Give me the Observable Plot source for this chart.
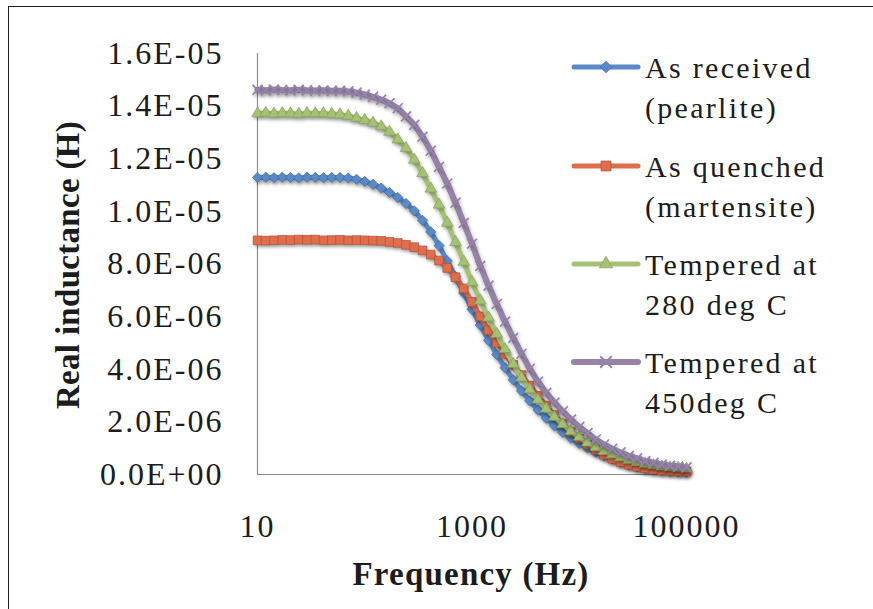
<!DOCTYPE html>
<html><head><meta charset="utf-8">
<script src="https://cdn.jsdelivr.net/npm/d3@7"></script>
<script src="https://cdn.jsdelivr.net/npm/@observablehq/plot@0.6"></script>
<style>
body{margin:0;background:#fff;}
#wrap{position:relative;width:873px;height:609px;overflow:hidden;background:#fff;font-family:"Liberation Serif",Tinos,"Times New Roman",Times,"Noto Serif","DejaVu Serif",serif;color:#1c1c1c;}
#frame{position:absolute;left:8px;top:6px;width:1000px;height:1000px;border-top:1.6px solid #222;border-left:1.6px solid #222;}
#chart{position:absolute;left:0;top:0;}
#chart g[aria-label="line"] path{filter:drop-shadow(1px 3px 2px rgba(0,0,0,0.3));}
#chart g[aria-label="dot"]{filter:drop-shadow(1px 2px 1.5px rgba(0,0,0,0.22));}
.title{position:absolute;font-weight:bold;font-size:33px;white-space:nowrap;transform:translate(-50%,-50%);}
#ytitle{left:68px;top:265px;transform:translate(-50%,-50%) rotate(-90deg);letter-spacing:0.3px;}
#xtitle{left:471px;top:574px;letter-spacing:1.2px;}
.leg{position:absolute;left:645px;font-size:30px;line-height:40px;letter-spacing:2.3px;white-space:nowrap;}
.sw{position:absolute;left:572px;width:68px;height:20px;overflow:visible;}
</style></head>
<body>
<div id="wrap">
  <div id="frame"></div>
  <div id="chart"></div>
  <div class="title" id="ytitle">Real inductance (H)</div>
  <div class="title" id="xtitle">Frequency (Hz)</div>
  <div id="legend"></div>
</div>
<script>
// Frequencies (Hz)
const freq = [10, 11.94, 14.25, 17.01, 20.31, 24.24, 28.94, 34.55, 41.25, 49.24, 58.78, 70.17, 83.77,
  100, 119.4, 142.5, 170.1, 203.1, 242.4, 289.4, 345.5, 412.5, 492.4, 587.8, 701.7, 837.7,
  1000, 1194, 1425, 1701, 2031, 2424, 2894, 3455, 4125, 4924, 5878, 7017, 8377,
  10000, 11938, 14251, 17013, 20309, 24245, 28943, 34551, 41246, 49239, 58780, 70171, 83768, 100000];

// Real inductance, in microhenries (x 1E-06 H)
const asReceived = [11.29, 11.30, 11.28, 11.30, 11.29, 11.27, 11.30, 11.29, 11.28, 11.29,
  11.29, 11.27, 11.22, 11.14, 11.03, 10.89, 10.72, 10.53, 10.30, 10.02,
  9.66, 9.22, 8.70, 8.12, 7.52, 6.90, 6.28, 5.68, 5.10, 4.56,
  4.06, 3.60, 3.18, 2.80, 2.45, 2.14, 1.85, 1.60, 1.38, 1.18,
  1.01, 0.85, 0.72, 0.59, 0.47, 0.37, 0.29, 0.23, 0.18, 0.15,
  0.12, 0.10, 0.09];
const asQuenched = [8.90, 8.89, 8.90, 8.92, 8.91, 8.93, 8.92, 8.93, 8.90, 8.91,
  8.92, 8.90, 8.91, 8.90, 8.89, 8.88, 8.84, 8.80, 8.73, 8.64,
  8.52, 8.36, 8.13, 7.85, 7.50, 7.07, 6.56, 6.01, 5.49, 5.01,
  4.58, 4.17, 3.78, 3.38, 2.99, 2.62, 2.26, 1.93, 1.62, 1.37,
  1.14, 0.94, 0.75, 0.60, 0.48, 0.38, 0.30, 0.24, 0.19, 0.16,
  0.14, 0.12, 0.11];
const tempered280 = [13.72, 13.74, 13.71, 13.73, 13.72, 13.70, 13.73, 13.72, 13.72, 13.70,
  13.68, 13.63, 13.55, 13.47, 13.37, 13.23, 13.02, 12.73, 12.40, 11.96,
  11.45, 10.86, 10.25, 9.56, 8.83, 8.08, 7.31, 6.61, 5.96, 5.34,
  4.76, 4.20, 3.68, 3.23, 2.84, 2.50, 2.19, 1.91, 1.65, 1.43,
  1.21, 1.04, 0.89, 0.76, 0.65, 0.55, 0.47, 0.40, 0.35, 0.30,
  0.27, 0.25, 0.22];
const tempered450 = [14.62, 14.60, 14.63, 14.61, 14.60, 14.62, 14.60, 14.59, 14.60, 14.58,
  14.58, 14.56, 14.51, 14.44, 14.35, 14.25, 14.11, 13.92, 13.61, 13.29,
  12.84, 12.31, 11.69, 11.06, 10.33, 9.56, 8.77, 7.93, 7.18, 6.48,
  5.81, 5.19, 4.59, 4.02, 3.53, 3.10, 2.73, 2.40, 2.09, 1.81,
  1.57, 1.33, 1.14, 0.98, 0.84, 0.71, 0.61, 0.51, 0.44, 0.38,
  0.33, 0.30, 0.27];

const seriesNames = ["As received (pearlite)", "As quenched (martensite)", "Tempered at 280 deg C", "Tempered at 450deg C"];
const legendLines = [["As received", "(pearlite)"], ["As quenched", "(martensite)"], ["Tempered at", "280 deg C"], ["Tempered at", "450deg C"]];
const xTicks = [10, 1000, 100000];
const yTicks = [0, 2e-6, 4e-6, 6e-6, 8e-6, 1e-5, 1.2e-5, 1.4e-5, 1.6e-5];

const colors = ["#5a89c5", "#de6e4c", "#a5c174", "#9683a9"];
const edge = ["#3e6ea8", "#b8503a", "#86a258", "#9683a9"];
const symbols = ["diamond2", "square", "triangle", "times"];
const radii = [4.6, 4.9, 4.3, 4.6];
const widths = [5, 5, 5, 6];

const values = [asReceived, asQuenched, tempered280, tempered450];
const tables = values.map((vals, s) => freq.map((f, i) => ({f, v: vals[i] * 1e-6, series: seriesNames[s]})));

const fmtY = d => {
  const [m, e] = d.toExponential(1).split("e");
  const n = +e;
  return m + "E" + (n < 0 ? "-" : "+") + String(Math.abs(n)).padStart(2, "0");
};

const marks = [
  Plot.ruleX([10], {stroke: "#8c8c8c", strokeWidth: 1.2}),
  Plot.ruleY([0], {stroke: "#8c8c8c", strokeWidth: 1.2})
];
tables.forEach((t, s) => {
  marks.push(Plot.line(t, {x: "f", y: "v", stroke: colors[s], strokeWidth: widths[s]}));
  if (symbols[s] === "times") {
    marks.push(Plot.dot(t, {x: "f", y: "v", symbol: "times", r: radii[s], stroke: colors[s], strokeWidth: 1.7, fill: "none"}));
  } else {
    marks.push(Plot.dot(t, {x: "f", y: "v", symbol: symbols[s], r: radii[s], fill: colors[s], stroke: edge[s], strokeWidth: 0.7}));
  }
});

const chart = Plot.plot({
  width: 873, height: 609,
  marginLeft: 257, marginRight: 187, marginTop: 53, marginBottom: 135,
  style: {fontFamily: '"Liberation Serif",Tinos,"Times New Roman",Times,"Noto Serif","DejaVu Serif",serif', fontSize: "32px", color: "#1c1c1c", background: "transparent", letterSpacing: "2px", overflow: "visible"},
  x: {type: "log", domain: [10, 100000], ticks: xTicks, tickFormat: d => String(d), tickSize: 0, tickPadding: 40, label: null},
  y: {domain: [0, 1.6e-5], ticks: yTicks, tickFormat: fmtY, tickSize: 0, tickPadding: 34, label: null},
  marks
});
document.getElementById("chart").appendChild(chart);

// Legend
const tops = [48, 147, 245, 343];
const legend = document.getElementById("legend");
const ns = "http://www.w3.org/2000/svg";
legendLines.forEach((lines, s) => {
  const div = document.createElement("div");
  div.className = "leg";
  div.style.top = tops[s] + "px";
  div.innerHTML = lines.join("<br>");
  legend.appendChild(div);
  const svg = document.createElementNS(ns, "svg");
  svg.setAttribute("class", "sw");
  svg.setAttribute("width", 68); svg.setAttribute("height", 20);
  svg.style.top = (tops[s] + 30 - 11 - 10) + "px";
  const line = document.createElementNS(ns, "line");
  line.setAttribute("x1", 2); line.setAttribute("x2", 66);
  line.setAttribute("y1", 10); line.setAttribute("y2", 10);
  line.setAttribute("stroke", colors[s]); line.setAttribute("stroke-width", widths[s]);
  line.setAttribute("stroke-linecap", "round");
  svg.appendChild(line);
  const p = document.createElementNS(ns, "path");
  const sym = {diamond2: d3.symbolDiamond2, square: d3.symbolSquare, triangle: d3.symbolTriangle, times: d3.symbolTimes}[symbols[s]];
  const r = radii[s] * 1.15;
  p.setAttribute("d", d3.symbol(sym, Math.PI * r * r)());
  p.setAttribute("transform", "translate(34,10)");
  if (symbols[s] === "times") {
    p.setAttribute("fill", "none"); p.setAttribute("stroke", colors[s]); p.setAttribute("stroke-width", 2);
  } else {
    p.setAttribute("fill", colors[s]); p.setAttribute("stroke", edge[s]); p.setAttribute("stroke-width", 0.7);
  }
  svg.appendChild(p);
  legend.appendChild(svg);
});
</script>
</body></html>
